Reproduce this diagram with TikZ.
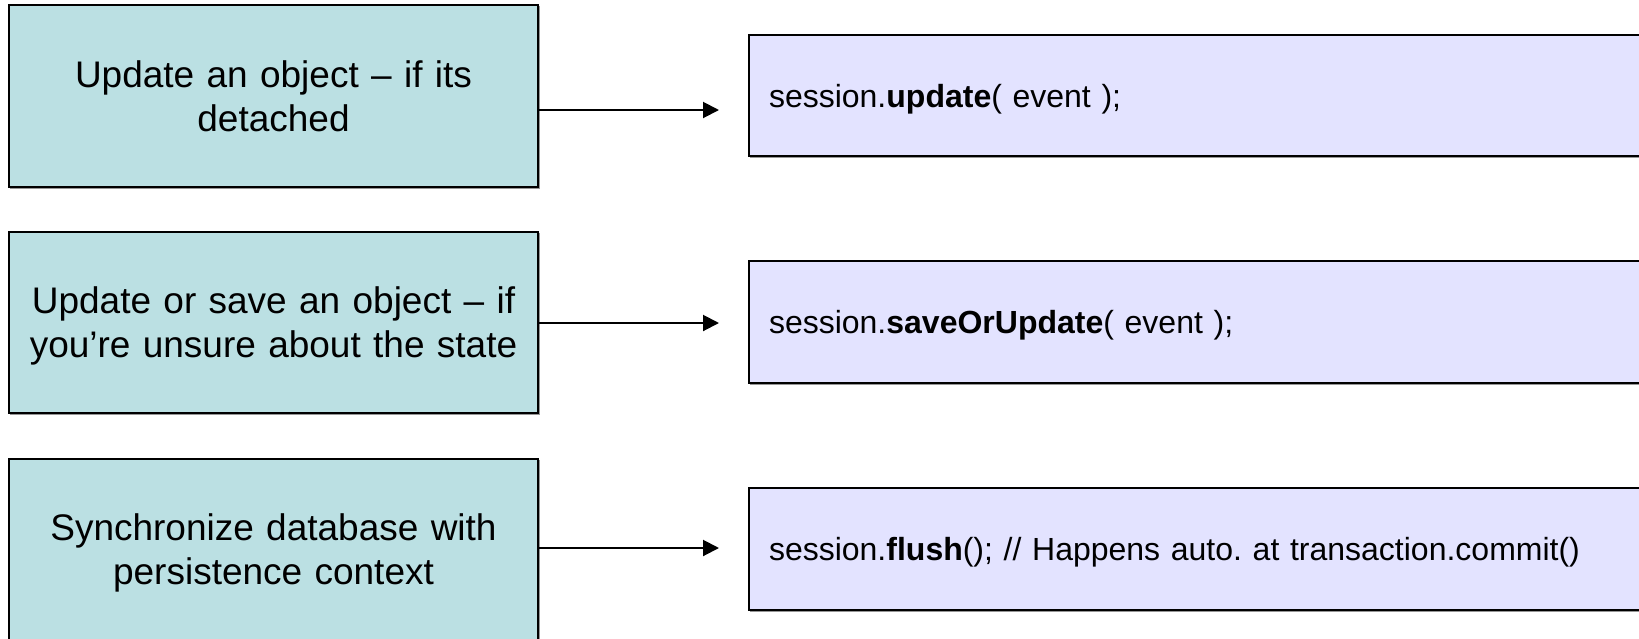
\documentclass[tikz,border=0pt]{standalone}
\usepackage{fontspec}
\setmainfont{Liberation Sans}
\usetikzlibrary{arrows.meta}
\definecolor{taskfill}{RGB}{187,224,227}
\definecolor{codefill}{RGB}{227,227,255}
\definecolor{edgeshade}{RGB}{150,150,150}
\tikzset{
  boxedge/.style={draw=black, line width=2pt, rectangle,
    preaction={draw=edgeshade, line width=1.5pt,
      transform canvas={shift={(1.5pt,-1.5pt)}}}},
  % two-line captions: the box depth is the second baseline, descenders ignored
  taskbox/.style={boxedge, fill=taskfill,
    minimum width=529pt, text width=529pt, inner xsep=0pt, align=center,
    text depth=44pt, font=\fontsize{37}{44}\selectfont},
  codebox/.style={boxedge, fill=codefill,
    text width=871pt, inner xsep=20pt, align=left,
    text depth=0pt, font=\fontsize{32}{38}\selectfont},
  link/.style={draw=black, line width=2pt, -{Triangle[length=16pt,width=16pt]}}
}
\frenchspacing
\begin{document}
\begin{tikzpicture}[x=1pt,y=-1pt]
  \useasboundingbox (0,0) rectangle (1639,638);

  % actions in plain words
  \node[taskbox, minimum height=182pt] (t1) at (273.5,96)
    {Update an object – if its\\detached};
  \node[taskbox, minimum height=181pt] (t2) at (273.5,322.5)
    {Update or save an object – if\\you’re unsure about the state};
  \node[taskbox, minimum height=181pt] (t3) at (273.5,549.5)
    {Synchronize database with\\persistence context};

  % matching Hibernate calls
  \node[codebox, minimum height=121pt] (c1) at (1204.5,95.5)
    {session.\textbf{update}( event );};
  \node[codebox, minimum height=122pt] (c2) at (1204.5,322)
    {session.\textbf{saveOrUpdate}( event );};
  \node[codebox, minimum height=122pt] (c3) at (1204.5,549)
    {session.\textbf{flush}(); // Happens auto. at transaction.commit()};

  % arrow ends
  \coordinate (e1) at (719,110);
  \coordinate (e2) at (719,323);
  \coordinate (e3) at (719,548);

  \draw[link] (t1.east |- e1) -- (e1);
  \draw[link] (t2.east |- e2) -- (e2);
  \draw[link] (t3.east |- e3) -- (e3);
\end{tikzpicture}
\end{document}
